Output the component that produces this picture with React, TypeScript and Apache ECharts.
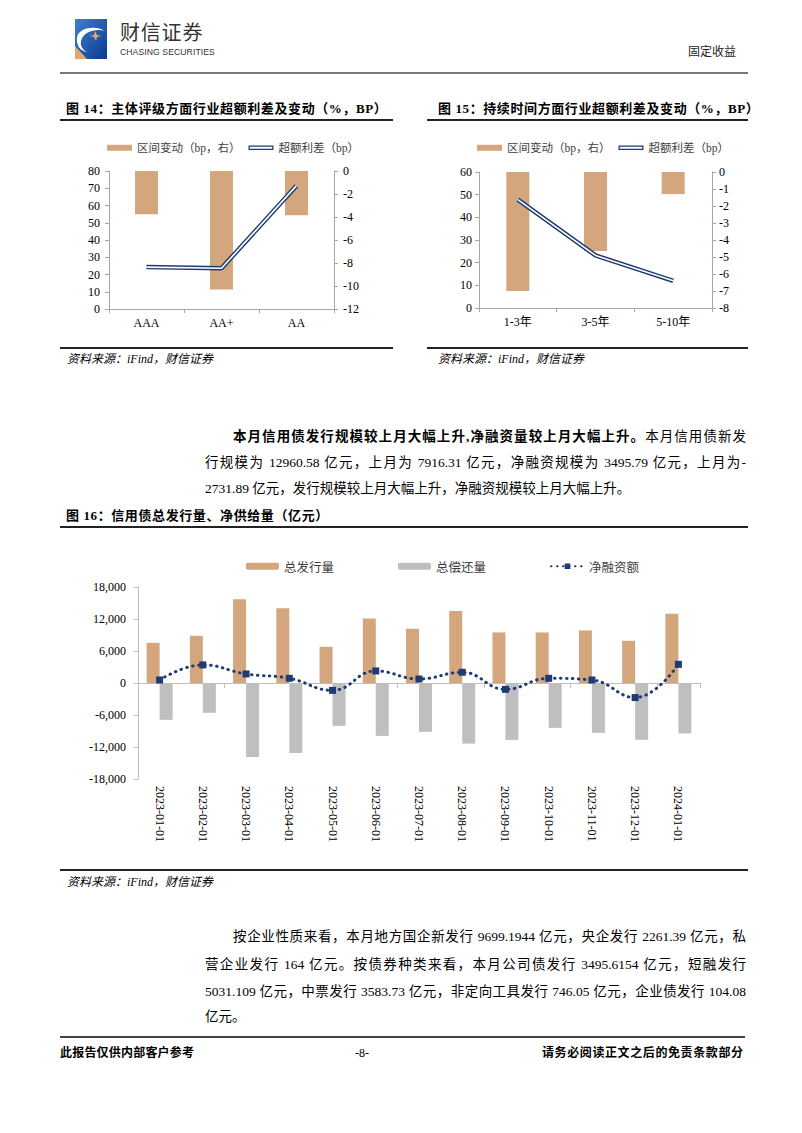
import React, { useEffect, useRef } from 'react';
import * as echarts from 'echarts';

// ---------- data ----------
const ratingCategories = ['AAA', 'AA+', 'AA'];
const ratingChange = [-3.75, -10.3, -3.85]; // 区间变动（bp，右）
const ratingSpread = [24.3, 23.6, 71.5]; // 超额利差（bp）

const termCategories = ['1-3年', '3-5年', '5-10年'];
const termChange = [-7.0, -4.65, -1.3];
const termSpread = [47.8, 23.2, 12.0];

const months = [
  '2023-01-01', '2023-02-01', '2023-03-01', '2023-04-01', '2023-05-01', '2023-06-01',
  '2023-07-01', '2023-08-01', '2023-09-01', '2023-10-01', '2023-11-01', '2023-12-01', '2024-01-01',
];
const issuance = [7530, 8850, 15690, 14000, 6780, 12115, 10170, 13500, 9480, 9480, 9855, 7916, 12961];
const repayment = [-6905, -5590, -13870, -13120, -8035, -9920, -9165, -11360, -10670, -8410, -9355, -10648, -9465];
const netFinancing = [565, 3390, 1695, 880, -1380, 2260, 750, 2010, -1190, 880, 565, -2732, 3496];

const legendChangeName = '区间变动（bp，右）';
const legendSpreadName = '超额利差（bp）';
const legend16 = ['总发行量', '总偿还量', '净融资额'];

// ---------- styles ----------
const SERIF = "'Liberation Serif', 'Noto Sans CJK SC', serif";
const SANS = "'Noto Sans CJK SC', sans-serif";
const LATIN_SANS = "'Liberation Sans', Arial, sans-serif";
const TAN = '#D4A67E';
const GRAY = '#BFBFBF';
const NAVY = '#1F3B73';
const AXIS = '#A6A6A6';
const DOUBLE_ICON = 'path://M0,0H40V7H0Z M2,2V5H38V2Z';

const axisLineStyle = { show: true, lineStyle: { color: AXIS, width: 1 } };
const axisTickStyle = { show: true, length: 4, lineStyle: { color: AXIS, width: 1 } };
const labelStyle = { color: '#000', fontFamily: SERIF, fontSize: 12 };

function dualChart(gi: number, cats: string[], change: number[], spread: number[], leftMax: number, rightMin: number, rightInterval: number, lblMargin: number) {
  return {
    xAxis: {
      type: 'category', gridIndex: gi, data: cats,
      axisLine: { ...axisLineStyle, onZero: false },
      axisTick: { ...axisTickStyle, alignWithLabel: false },
      axisLabel: { ...labelStyle, margin: 8 },
    },
    yAxes: [
      {
        type: 'value', gridIndex: gi, position: 'left', min: 0, max: leftMax, interval: 10,
        axisLine: axisLineStyle, axisTick: axisTickStyle, splitLine: { show: false },
        axisLabel: { ...labelStyle, margin: lblMargin },
      },
      {
        type: 'value', gridIndex: gi, position: 'right', min: rightMin, max: 0, interval: rightInterval,
        axisLine: axisLineStyle, axisTick: axisTickStyle, splitLine: { show: false },
        axisLabel: { ...labelStyle, margin: lblMargin },
      },
    ],
    series: (xi: number, yl: number, yr: number) => [
      {
        name: legendChangeName, type: 'bar', xAxisIndex: xi, yAxisIndex: yr,
        data: change, barWidth: 23, itemStyle: { color: TAN },
      },
      {
        name: legendSpreadName, type: 'line', xAxisIndex: xi, yAxisIndex: yl,
        data: spread, symbol: 'none', color: NAVY,
        lineStyle: { color: NAVY, width: 4.5 }, z: 3,
      },
      {
        name: legendSpreadName + '_inner', type: 'line', xAxisIndex: xi, yAxisIndex: yl,
        data: spread, symbol: 'none', color: '#fff',
        lineStyle: { color: '#fff', width: 1.6 }, z: 4, silent: true,
      },
    ],
  };
}

function buildOption() {
  const c14 = dualChart(0, ratingCategories, ratingChange, ratingSpread, 80, -12, 2, 9);
  const c15 = dualChart(1, termCategories, termChange, termSpread, 60, -8, 1, 7);

  const legendFor = (left: number) => ({
    left, top: 137, orient: 'horizontal',
    itemWidth: 25, itemHeight: 6, itemGap: 8,
    textStyle: { fontFamily: SERIF, fontSize: 11.5, color: '#404040' },
    data: [
      { name: legendChangeName, icon: 'rect' },
      { name: legendSpreadName, icon: DOUBLE_ICON, itemStyle: { color: NAVY, borderWidth: 0 } },
    ],
    selectedMode: false,
  });

  return {
    animation: false,
    backgroundColor: 'transparent',
    grid: [
      { left: 109, top: 171, width: 225, height: 138 },
      { left: 479, top: 172, width: 233, height: 136 },
      { left: 138, top: 587, width: 562, height: 192 },
    ],
    legend: [
      legendFor(102),
      legendFor(472),
      {
        left: 241, top: 555, itemWidth: 33, itemHeight: 7, itemGap: 64,
        textStyle: { fontFamily: SANS, fontSize: 12.5, color: '#404040' },
        data: legend16, selectedMode: false,
      },
    ],
    xAxis: [
      c14.xAxis,
      c15.xAxis,
      {
        type: 'category', gridIndex: 2, data: months,
        axisLine: { show: true, onZero: true, lineStyle: { color: GRAY, width: 1 } },
        axisTick: { show: true, length: 5, alignWithLabel: false, lineStyle: { color: GRAY } },
        axisLabel: { show: false },
      },
      {
        type: 'category', gridIndex: 2, data: months, position: 'bottom',
        axisLine: { show: false, onZero: false },
        axisTick: { show: false },
        axisLabel: { ...labelStyle, rotate: -90, margin: 7 },
      },
    ],
    yAxis: [
      ...c14.yAxes,
      ...c15.yAxes,
      {
        type: 'value', gridIndex: 2, min: -18000, max: 18000, interval: 6000,
        axisLine: { show: true, lineStyle: { color: GRAY } },
        axisTick: { show: true, length: 4, lineStyle: { color: GRAY } },
        splitLine: { show: false },
        axisLabel: {
          ...labelStyle, margin: 12,
          formatter: (v: number) => v.toLocaleString('en-US'),
        },
      },
    ],
    series: [
      ...c14.series(0, 0, 1),
      ...c15.series(1, 2, 3),
      {
        name: '总发行量', type: 'bar', xAxisIndex: 2, yAxisIndex: 4,
        data: issuance, barWidth: 13, barGap: '0%', itemStyle: { color: TAN },
      },
      {
        name: '总偿还量', type: 'bar', xAxisIndex: 2, yAxisIndex: 4,
        data: repayment, barWidth: 13, barGap: '0%', itemStyle: { color: GRAY },
      },
      {
        name: '净融资额', type: 'line', xAxisIndex: 2, yAxisIndex: 4,
        data: netFinancing, smooth: 0.45, symbol: 'rect', symbolSize: 7,
        color: NAVY, itemStyle: { color: NAVY },
        lineStyle: { color: NAVY, width: 3, type: [0.5, 5.5], cap: 'round' },
        z: 5,
      },
    ],
  };
}

// ---------- page helpers ----------
const T: React.FC<{ x: number; y: number; size?: number; lh?: number; bold?: boolean; italic?: boolean; ls?: number; family?: string; color?: string; children: React.ReactNode }> = ({ x, y, size = 12, lh, bold, italic, ls = 0, family = SERIF, color = '#000', children }) => {
  const h = lh ?? Math.ceil(size * 1.3);
  return (
    <div style={{
      position: 'absolute', left: x, top: y - h / 2, height: h, lineHeight: `${h}px`,
      fontSize: size, fontWeight: bold ? 700 : 400, fontStyle: italic ? 'italic' : 'normal',
      letterSpacing: ls, fontFamily: family, color, whiteSpace: 'nowrap',
    }}>{children}</div>
  );
};

const HLine: React.FC<{ x1: number; x2: number; y: number; w?: number; color?: string }> = ({ x1, x2, y, w = 1.5, color = '#222' }) => (
  <div style={{ position: 'absolute', left: x1, top: y - w / 2, width: x2 - x1, height: w, background: color }} />
);

const PLine: React.FC<{ x: number; y: number; right?: number; justify?: boolean; children: React.ReactNode }> = ({ x, y, right = 746, justify = true, children }) => (
  <div style={{
    position: 'absolute', left: x, top: y - 10, width: right - x, height: 20, lineHeight: '20px',
    fontSize: 13.5, fontFamily: SERIF, color: '#000', whiteSpace: 'nowrap',
    textAlign: justify ? 'justify' : 'left', textAlignLast: justify ? 'justify' : 'left',
  } as React.CSSProperties}>{children}</div>
);

export default function App() {
  const ref = useRef<HTMLDivElement>(null);
  useEffect(() => {
    if (!ref.current) return;
    const chart = echarts.init(ref.current, undefined, { renderer: 'svg' });
    chart.setOption(buildOption() as any);
    return () => chart.dispose();
  }, []);

  return (
    <div style={{ position: 'absolute', left: 0, top: 0, width: 802, height: 1133, background: '#fff', overflow: 'hidden' }}>
      <div ref={ref} style={{ position: 'absolute', left: 0, top: 0, width: 802, height: 1133 }} />

      {/* header */}
      <svg style={{ position: 'absolute', left: 75, top: 19 }} width={32} height={40} viewBox="0 0 32 40">
        <defs>
          <linearGradient id="lg" x1="0" y1="0" x2="1" y2="1">
            <stop offset="0" stopColor="#3f7fd0" />
            <stop offset="1" stopColor="#0b3a8c" />
          </linearGradient>
        </defs>
        <rect x={0} y={0} width={32} height={40} fill="url(#lg)" />
        <polygon points="0,27 12,40 0,40" fill="#E3A773" />
        <path d="M2,18 C4,8 22,6 30,12 C22,9 8,12 6,22 C5,27 8,31 12,33 C5,32 1,26 2,18 Z" fill="#fff" />
        <path d="M20,12 L22,16 L26,17 L22,18 L21,22 L19,18 L15,17 L19,16 Z" fill="#E9A66A" />
      </svg>
      <T x={120} y={32} size={20} lh={22} family={SANS} color="#333" ls={0.8}>财信证券</T>
      <T x={120} y={52} size={8.6} lh={9} family={LATIN_SANS} color="#333" ls={0.1}>CHASING SECURITIES</T>
      <T x={688} y={52} size={12} color="#222">固定收益</T>
      <HLine x1={60} x2={748} y={73} w={2.5} color="#7a7a7a" />

      {/* figure 14 / 15 titles */}
      <T x={66} y={108} size={13} bold ls={0.6}>图 14：主体评级方面行业超额利差及变动（%，BP）</T>
      <HLine x1={60} x2={393} y={120} />
      <T x={438} y={108} size={13} bold ls={0.6}>图 15：持续时间方面行业超额利差及变动（%，BP）</T>
      <HLine x1={427} x2={748} y={120} />

      <HLine x1={60} x2={393} y={348} />
      <T x={67} y={359} size={12} italic>资料来源：iFind，财信证券</T>
      <HLine x1={427} x2={748} y={348} />
      <T x={438} y={359} size={12} italic>资料来源：iFind，财信证券</T>

      {/* paragraph 1 */}
      <PLine x={233} y={437}><b>本月信用债发行规模较上月大幅上升,净融资量较上月大幅上升。</b>本月信用债新发</PLine>
      <PLine x={205} y={463}>行规模为 12960.58 亿元，上月为 7916.31 亿元，净融资规模为 3495.79 亿元，上月为-</PLine>
      <PLine x={205} y={489} justify={false}>2731.89 亿元，发行规模较上月大幅上升，净融资规模较上月大幅上升。</PLine>

      {/* figure 16 */}
      <T x={66} y={515} size={13} bold ls={0.6}>图 16：信用债总发行量、净供给量（亿元）</T>
      <HLine x1={60} x2={748} y={527} w={2} />
      <HLine x1={60} x2={748} y={870} />
      <T x={67} y={882} size={12} italic>资料来源：iFind，财信证券</T>

      {/* paragraph 2 */}
      <PLine x={233} y={937}>按企业性质来看，本月地方国企新发行 9699.1944 亿元，央企发行 2261.39 亿元，私</PLine>
      <PLine x={205} y={965}>营企业发行 164 亿元。按债券种类来看，本月公司债发行 3495.6154 亿元，短融发行</PLine>
      <PLine x={205} y={992}>5031.109 亿元，中票发行 3583.73 亿元，非定向工具发行 746.05 亿元，企业债发行 104.08</PLine>
      <PLine x={205} y={1017} justify={false}>亿元。</PLine>

      {/* footer */}
      <HLine x1={60} x2={745} y={1037} w={2} color="#444" />
      <T x={60} y={1053} size={12} bold ls={0.2}>此报告仅供内部客户参考</T>
      <T x={355} y={1053} size={12}>-8-</T>
      <T x={542} y={1053} size={12} bold ls={0.6}>请务必阅读正文之后的免责条款部分</T>
    </div>
  );
}
